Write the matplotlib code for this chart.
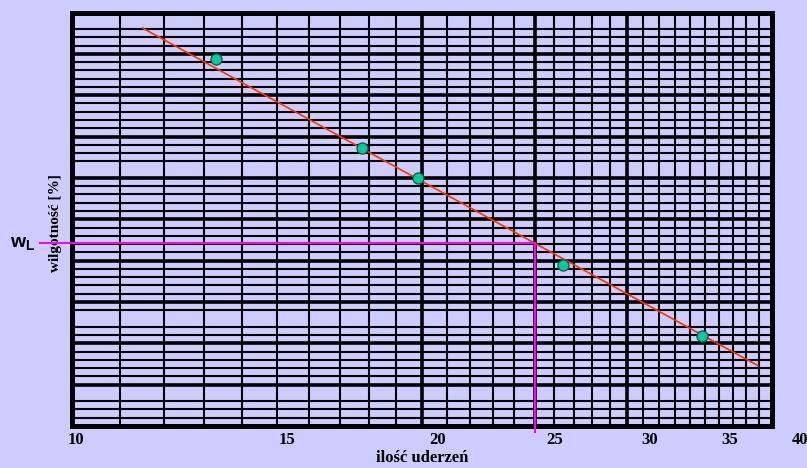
import numpy as np
import matplotlib
matplotlib.use('Agg')
import matplotlib.pyplot as plt
from matplotlib.ticker import NullLocator, FixedLocator, FixedFormatter
from matplotlib.transforms import blended_transform_factory

plt.rcParams['mathtext.fontset'] = 'custom'
plt.rcParams['mathtext.bf'] = 'Liberation Sans:bold'
plt.rcParams['mathtext.rm'] = 'Liberation Sans'

# punkty pomiarowe: ilość uderzeń / wilgotność [%]
uderzenia = [13.3, 17.75, 19.85, 26.45, 34.85]
wilgotnosc = [42.19, 36.81, 35.0, 29.73, 25.44]

# prosta dopasowana (końce odcinka)
prosta_x = [11.5, 38.9]
prosta_y = [44.06, 23.65]

# granica płynności przy 25 uderzeniach
wl_uderzenia = 25
wl = 31.06

# podpisy osi x (na oryginale przesunięte względem siatki)
etykiety_x = [10, 15, 20, 25, 30, 35, 40]

# siatka papieru półlogarytmicznego
siatka_x = list(range(11, 40))
siatka_x_grube = [20, 25, 30]
siatka_y = np.arange(20.5, 45, 0.5)
brak_y = [22.0, 26.5, 35.5, 44.5]   # linie niewidoczne na skanie

tlo = '#ccccff'

fig = plt.figure(figsize=(8.07, 4.68), dpi=100, facecolor=tlo)
ax = fig.add_axes([72/807, 42/468, 700/807, 413.5/468], facecolor=tlo)
ax.set_xscale('log')
ax.set_xlim(10, 40)
ax.set_ylim(20, 45)

for v in siatka_x:
    ax.axvline(v, color='black', lw=2.6 if v in siatka_x_grube else 1.5, zorder=1)
for v in siatka_y:
    if np.any(np.isclose(v, brak_y)):
        continue
    gruba = np.isclose((v - 20) % 2.5, 0) or np.isclose((v - 20) % 2.5, 2.5)
    ax.axhline(v, color='black', lw=2.6 if gruba else 1.5, zorder=1)

for s in ax.spines.values():
    s.set_linewidth(3.6)
ax.xaxis.set_major_locator(NullLocator())
ax.xaxis.set_minor_locator(NullLocator())
ax.yaxis.set_major_locator(NullLocator())
ax.yaxis.set_minor_locator(NullLocator())

# prosta i punkty
ax.plot(prosta_x, prosta_y, color='#ff3300', lw=1.2, zorder=4)
ax.plot(uderzenia, wilgotnosc, 'o', ms=8, mfc='#00cc99', mec='#1f4f45', mew=0.9, zorder=5)

# linie odczytu w_L
lo, hi = np.log10(ax.get_xlim())
x_lewo = 10 ** (lo + (40 - 72) / 700 * (hi - lo))
y_dol = 20 - 6 / 413.5 * 25
ax.plot([x_lewo, wl_uderzenia, wl_uderzenia], [wl, wl, y_dol], color='#ff00ff',
        lw=1.5, clip_on=False, zorder=6)
ax.text(-0.052, wl, r'$\mathbf{w}_\mathbf{L}$', fontsize=14, ha='right', va='center',
        transform=blended_transform_factory(ax.transAxes, ax.transData))

ax.set_xlabel('ilość uderzeń', fontsize=12, family='Liberation Serif', weight='bold')
ax.xaxis.set_label_coords(0.5, -0.058)
ax.set_ylabel('wilgotność [%]', fontsize=11, family='Liberation Serif', weight='bold')
ax.yaxis.set_label_coords(-0.014, 0.49)

# osobna oś z podpisami (skala nie pokrywa się dokładnie z siatką)
ax2 = fig.add_axes([72/807, 42/468, 738/807, 413.5/468], frameon=False)
ax2.set_xscale('log')
ax2.set_xlim(9.93, 40.8)
ax2.xaxis.set_major_locator(FixedLocator(etykiety_x))
ax2.xaxis.set_major_formatter(FixedFormatter([str(e) for e in etykiety_x]))
ax2.xaxis.set_minor_locator(NullLocator())
ax2.yaxis.set_major_locator(NullLocator())
ax2.tick_params(axis='x', length=0, pad=4, labelsize=12)
for t in ax2.get_xticklabels():
    t.set_family('Liberation Serif')
    t.set_weight('bold')
ax2.patch.set_visible(False)

fig.savefig('out.png', dpi=100, facecolor=tlo)
